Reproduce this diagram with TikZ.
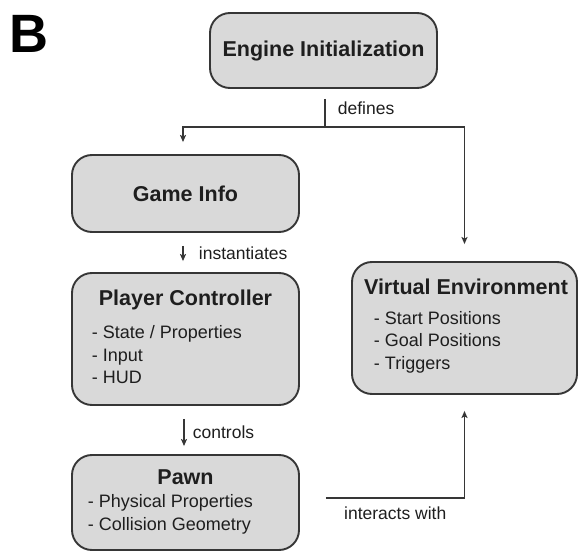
\documentclass[tikz,border=0pt]{standalone}
\usepackage{fontspec}
\setmainfont{Liberation Sans}
\usetikzlibrary{arrows.meta}
\definecolor{boxfill}{HTML}{D9D9D9}
\definecolor{edge}{HTML}{363636}
\definecolor{ink}{HTML}{1E1E1E}

\begin{document}
\begin{tikzpicture}
[x=1pt, y=-1pt, line width=1.9pt, draw=edge, text=ink,
unit/.style={rectangle, rounded corners=20pt, draw=edge, fill=boxfill, inner sep=0pt, minimum width=227pt},
heading/.style={font=\fontsize{21.5}{26}\selectfont\bfseries, inner sep=0pt},
items/.style={font=\fontsize{18}{22.5}\selectfont, align=left, anchor=west, inner sep=0pt},
link/.style={draw=edge, line width=1.8pt, -{Stealth[length=7pt,width=6pt,inset=1.5pt]}},
linktext/.style={font=\fontsize{17.5}{21}\selectfont, anchor=west, inner sep=0pt}]

\useasboundingbox (0,0) rectangle (579,551);

\node[font=\fontsize{54}{60}\selectfont\bfseries, text=black, inner sep=0pt] (panel) at (29,34) {B};

\node[unit, heading, minimum height=75pt] (engine) at (323.5,50.5) {Engine Initialization};
\node[unit, heading, minimum height=77pt] (gameinfo) at (185.5,193.5) {Game Info};

\node[unit, minimum height=132pt] (player) at (185.5,339) {};
\node[heading, anchor=base] (playertitle) at (185.5,305.7) {Player Controller};
\node[items] (playeritems) at (91,355) {- State / Properties\\- Input\\- HUD};

\node[unit, minimum width=225pt, minimum height=132pt] (venv) at (464.5,328) {};
\node[heading, anchor=base] (venvtitle) at (466,294.7) {Virtual Environment};
\node[items] (venvitems) at (373,342) {- Start Positions\\- Goal Positions\\- Triggers};

\node[unit, minimum height=95pt] (pawn) at (185.5,502.5) {};
\node[heading, anchor=base] (pawntitle) at (185.5,484.7) {Pawn};
\node[items] (pawnitems) at (87,514.5) {- Physical Properties\\- Collision Geometry};

% engine splits into game info and environment
\coordinate (split) at (325,127);
\draw[line width=1.8pt, shorten <=10pt] (engine.south -| split) -- node[linktext, xshift=12pt] (definestext) {defines} (split);
\draw[link] (split) -| ([xshift=-2.5pt,yshift=12pt]gameinfo.north);
\draw[link] (split) -| ([yshift=17pt]venv.north);

\draw[link] ([xshift=-2.5pt,yshift=-13pt]gameinfo.south) -- node[linktext, xshift=15pt] (instantiatestext) {instantiates} ([xshift=-2.5pt,yshift=11pt]player.north);
\draw[link] ([xshift=-1.5pt,yshift=-13pt]player.south) -- node[linktext, xshift=8pt] (controlstext) {controls} ([xshift=-1.5pt,yshift=8pt]pawn.north);

\draw[link] ([xshift=26pt,yshift=4.5pt]pawn.east) -| node[pos=0.25, linktext, anchor=north, yshift=-7.5pt] (interactstext) {interacts with} ([yshift=-16pt]venv.south);
\end{tikzpicture}
\end{document}
